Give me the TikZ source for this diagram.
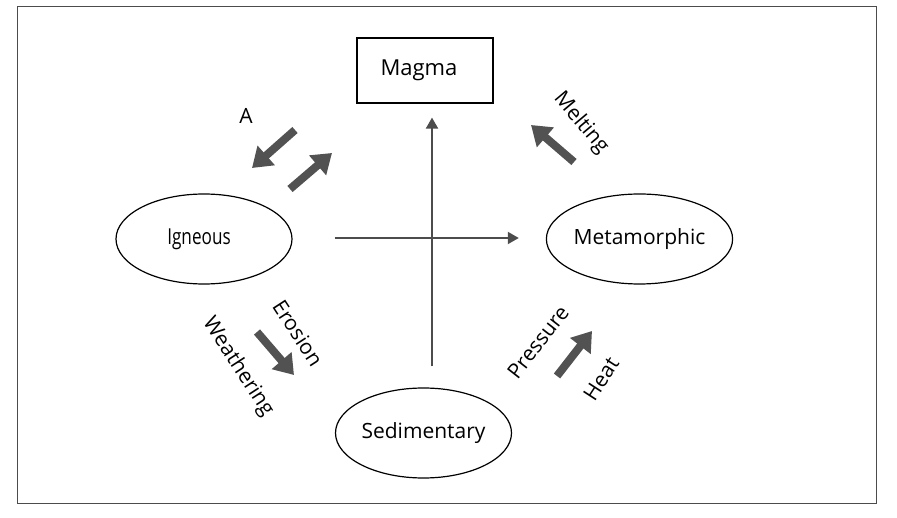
\documentclass[tikz,border=0pt]{standalone}
\usepackage{fontspec}
\setmainfont{Open Sans}
\usetikzlibrary{arrows.meta,shapes.geometric}
\begin{document}
\begin{tikzpicture}[x=1pt,y=-1pt,
  oval/.style={draw, line width=1.2pt, ellipse, minimum width=176pt, minimum height=90pt, inner sep=0pt, font=\fontsize{21}{24}\selectfont},
  conn/.style={draw=black!70, line width=2pt, -{Triangle[width=12pt,length=11pt]}},
  fat/.style={draw=black!68, line width=8pt, -{Triangle[width=25pt,length=19pt]}},
  lbl/.style={font=\fontsize{21}{24}\selectfont, inner sep=0pt}]
\path[use as bounding box] (0,0) rectangle (897,518);
\draw[black!70, line width=1pt] (17,7) rectangle (876,503);
\node[draw, line width=1.2pt, minimum width=136pt, minimum height=65pt, inner sep=0pt, font=\fontsize{22}{24}\selectfont] (magma) at (425,70.5) {\hspace*{-12pt}Magma};
\node[oval, font=\fontsize{22}{24}\selectfont] (ign) at (204,239) {\hspace*{-10pt}\scalebox{0.78}[1]{Igneous}};
\node[oval] (met) at (639.5,239) {Metamorphic};
\node[oval] (sed) at (423.5,433) {Sedimentary};
\coordinate (cross) at (432,238);
\draw[conn, shorten <=21pt, shorten >=14pt] (sed.north -| cross) -- (magma.south -| cross);
\draw[conn, shorten <=42pt, shorten >=27pt] (ign.east |- cross) -- (met.west |- cross);
% thick arrows
\coordinate (a1s) at (295,130); \coordinate (a1e) at (252,168);
\coordinate (a2s) at (290,189); \coordinate (a2e) at (332,153);
\coordinate (m1s) at (574,162); \coordinate (m1e) at (531,125);
\coordinate (e1s) at (257,332); \coordinate (e1e) at (294,375);
\coordinate (p1s) at (557,376); \coordinate (p1e) at (592,331);
\draw[fat] (a1s) -- (a1e);
\draw[fat] (a2s) -- (a2e);
\draw[fat] (m1s) -- (m1e);
\draw[fat] (e1s) -- (e1e);
\draw[fat] (p1s) -- (p1e);
\node[lbl] (A) at (246,116) {A};
\node[lbl, rotate=-50] (melt) at (581,123) {Melting};
\node[lbl, rotate=-57] (ero) at (298,333) {Erosion};
\node[lbl, rotate=-57] (wea) at (238,367) {Weathering};
\node[lbl, rotate=52] (pre) at (538,342) {Pressure};
\node[lbl, rotate=57] (heat) at (601,379) {Heat};
\end{tikzpicture}
\end{document}
